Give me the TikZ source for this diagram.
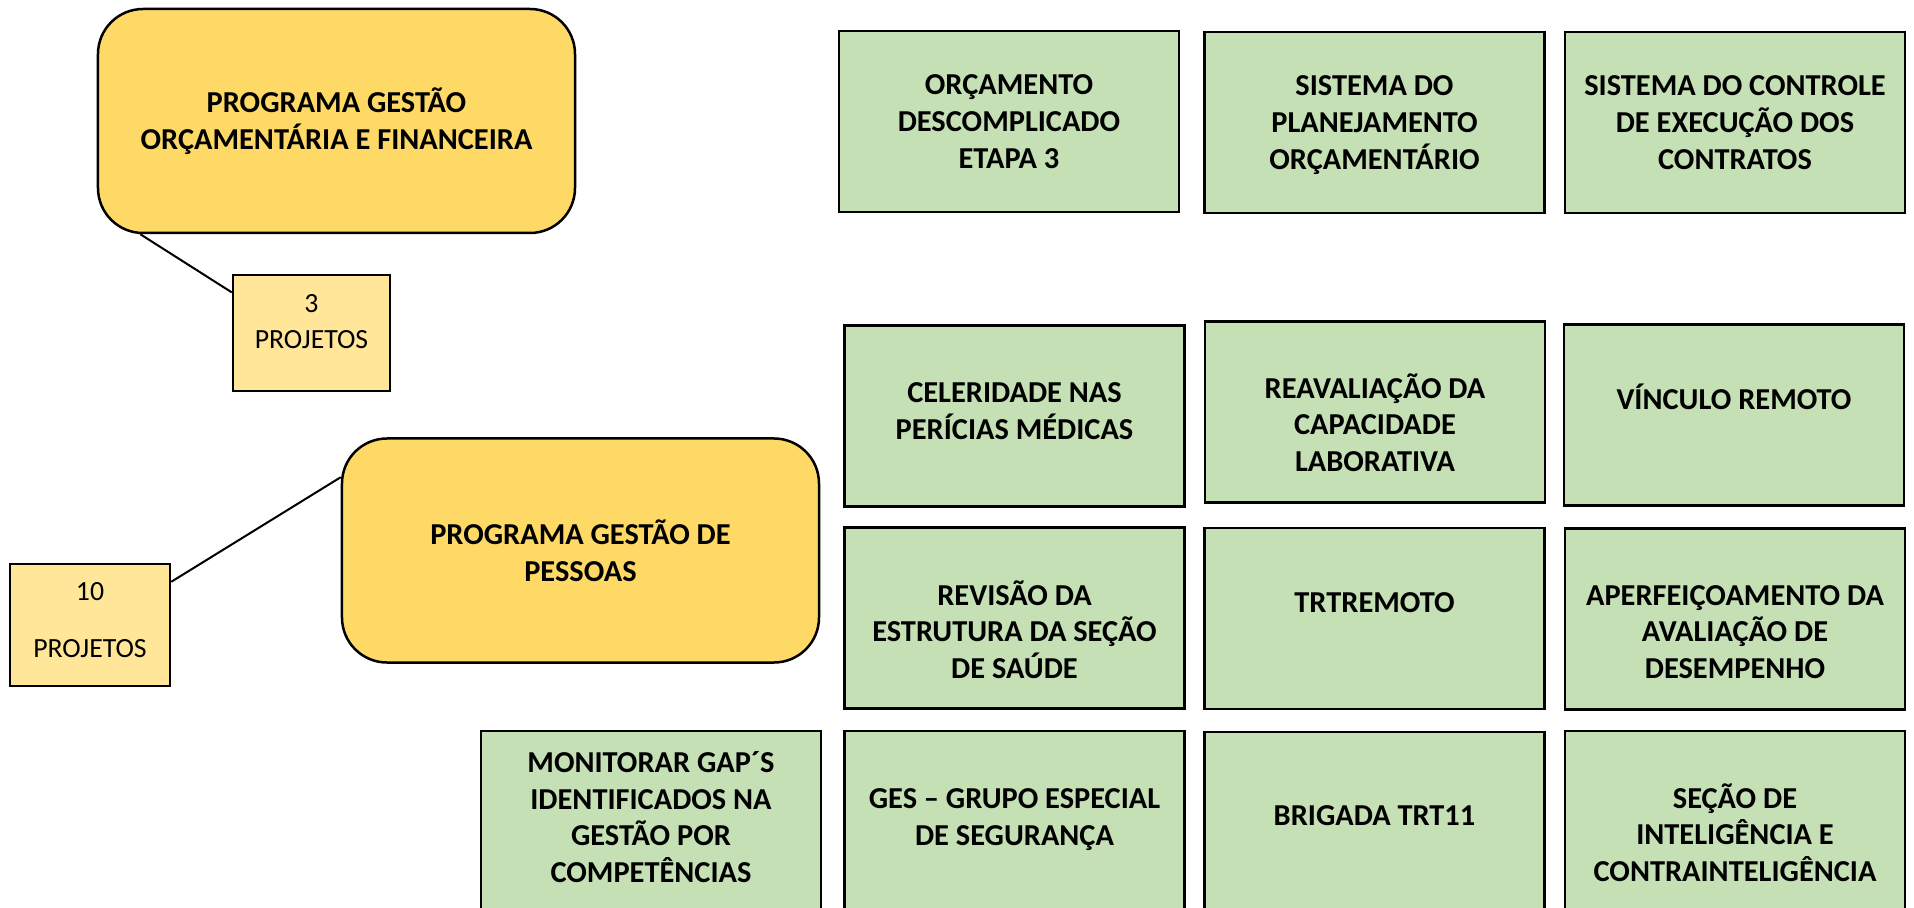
\documentclass[tikz,border=0pt]{standalone}
\usepackage{fontspec}
\setmainfont{Carlito}
\usepackage{tikz}

\definecolor{progyellow}{RGB}{255,217,102}
\definecolor{qtdyellow}{RGB}{255,230,153}
\definecolor{projgreen}{RGB}{197,224,180}

\tikzset{
	prog/.style={draw, line width=0.5mm, fill=progyellow, rounded corners=9mm, minimum width=95.4mm, minimum height=44.8mm, inner sep=0pt, align=center, font=\bfseries\fontsize{17.3}{20.8}\selectfont},
	qtd/.style={draw, line width=0.5mm, fill=qtdyellow, inner sep=0pt, align=center, font=\fontsize{15.8}{20.5}\selectfont},
	proj/.style={draw, line width=0.55mm, fill=projgreen, minimum width=68mm, minimum height=36.2mm, inner sep=0pt, text depth=0pt, align=center, font=\bfseries\fontsize{17.3}{20.8}\selectfont},
	conn/.style={line width=0.4mm}
}

\begin{document}
	\begin{tikzpicture}[x=0.2mm, y=-0.2mm]
		\useasboundingbox (0,0) rectangle (1914,908);
		\clip (0,0) rectangle (1914,908);

		% programas
		\node[prog] (orc) at (336.5,121) {PROGRAMA GESTÃO\\ORÇAMENTÁRIA E FINANCEIRA};
		\node[prog] (pes) at (580.5,550.5) {PROGRAMA GESTÃO DE\\PESSOAS};

		% numero de projetos
		\node[qtd, minimum width=31.4mm, minimum height=23.2mm, text depth=4.6mm] (orcqtd) at (311.5,333) {3\\PROJETOS};
		\node[qtd, minimum width=32mm, minimum height=24.4mm, text depth=2mm] (pesqtd) at (90,625) {10\\[4.2mm]PROJETOS};

		\draw[conn] (orc.210) -- (orcqtd.153); % orcamento -> 3
		\draw[conn] (pesqtd.28) -- (pes.163); % 10 -> pessoas

		% projetos orcamentarios
		\node[proj] (orcdesc) at (1009,121.5) {ORÇAMENTO\\DESCOMPLICADO\\ETAPA 3};
		\node[proj] (sisplan) at (1374.5,122.5) {SISTEMA DO\\PLANEJAMENTO\\ORÇAMENTÁRIO};
		\node[proj] (siscont) at (1735,122.5) {SISTEMA DO CONTROLE\\DE EXECUÇÃO DOS\\CONTRATOS};

		% projetos de pessoas
		\node[proj, text depth=2mm] (celer) at (1014.5,416) {CELERIDADE NAS\\PERÍCIAS MÉDICAS};
		\node[proj, text height=67.6pt] (reaval) at (1375,412) {REAVALIAÇÃO DA\\CAPACIDADE\\LABORATIVA};
		\node[proj, text depth=7.5mm] (vinculo) at (1734,415) {VÍNCULO REMOTO};

		\node[proj, text height=68.8pt] (revisao) at (1014.5,618) {REVISÃO DA\\ESTRUTURA DA SEÇÃO\\DE SAÚDE};
		\node[proj, text depth=6.2mm] (trtrem) at (1374.5,618.5) {TRTREMOTO};
		\node[proj, text height=67.6pt] (aperf) at (1735,619) {APERFEIÇOAMENTO DA\\AVALIAÇÃO DE\\DESEMPENHO};

		\node[proj, text depth=1.8mm] (gaps) at (651,821.5) {MONITORAR GAP´S\\IDENTIFICADOS NA\\GESTÃO POR\\COMPETÊNCIAS};
		\node[proj, text depth=1.7mm] (ges) at (1014.5,821.5) {GES – GRUPO ESPECIAL\\DE SEGURANÇA};
		\node[proj, text depth=2.9mm] (brigada) at (1374.5,822.5) {BRIGADA TRT11};
		\node[proj, text height=68.2pt] (intel) at (1735,821.5) {SEÇÃO DE\\INTELIGÊNCIA E\\CONTRAINTELIGÊNCIA};

	\end{tikzpicture}
\end{document}
